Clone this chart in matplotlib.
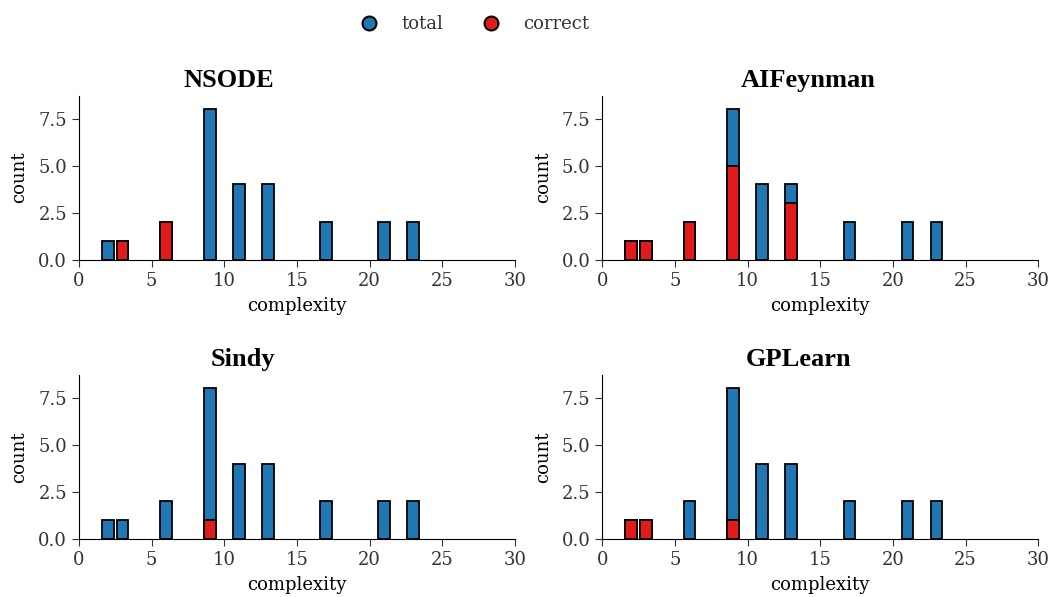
import matplotlib

matplotlib.use("Agg")
import matplotlib.pyplot as plt
from matplotlib.lines import Line2D

# complexity bins and total counts (shared across methods)
complexity = [2, 3, 6, 9, 11, 13, 17, 21, 23]
total = [1, 1, 2, 8, 4, 4, 2, 2, 2]

methods = ["NSODE", "AIFeynman", "Sindy", "GPLearn"]
correct = {
    "NSODE":     [0, 1, 2, 0, 0, 0, 0, 0, 0],
    "AIFeynman": [1, 1, 2, 5, 0, 3, 0, 0, 0],
    "Sindy":     [0, 0, 0, 1, 0, 0, 0, 0, 0],
    "GPLearn":   [1, 1, 0, 1, 0, 0, 0, 0, 0],
}

BLUE = "#1f77b4"
RED = "#e31a1c"
# horizontal title anchor (axes fraction) as placed in the original
title_x = {"NSODE": 0.343, "AIFeynman": 0.472, "Sindy": 0.376, "GPLearn": 0.45}

plt.rcParams["font.family"] = "DejaVu Serif"

fig, axes = plt.subplots(2, 2, figsize=(10.52, 5.97), dpi=100)
fig.subplots_adjust(left=0.075, right=0.987, top=0.84, bottom=0.097,
                    wspace=0.2, hspace=0.7)

for ax, name in zip(axes.flat, methods):
    ax.bar(complexity, total, width=0.8, color=BLUE, edgecolor="black",
           linewidth=1.3, zorder=2)
    ax.bar(complexity, correct[name], width=0.8, color=RED,
           edgecolor="black", linewidth=1.3, zorder=3)
    ax.set_xlim(0, 30)
    ax.set_ylim(0, 8.72)
    ax.set_xticks(range(0, 31, 5))
    ax.set_yticks([0, 2.5, 5.0, 7.5])
    ax.set_yticklabels(["0.0", "2.5", "5.0", "7.5"])
    ax.spines["top"].set_visible(False)
    ax.spines["right"].set_visible(False)
    ax.tick_params(labelsize=13, direction="out", length=5, color="#333333",
                   labelcolor="#333333")
    ax.set_xlabel("complexity", fontsize=13, labelpad=5)
    ax.set_ylabel("count", fontsize=13, labelpad=7)
    ax.set_title(name, fontsize=19, fontweight="bold",
                 family="Liberation Serif", x=title_x[name], pad=6)

handles = [
    Line2D([], [], marker="o", linestyle="", markersize=10,
           markerfacecolor=BLUE, markeredgecolor="black", markeredgewidth=1.5,
           label="total"),
    Line2D([], [], marker="o", linestyle="", markersize=10,
           markerfacecolor=RED, markeredgecolor="black", markeredgewidth=1.5,
           label="correct"),
]
leg = fig.legend(handles=handles, loc="upper center", ncol=2, frameon=False,
                 fontsize=13, bbox_to_anchor=(0.447, 1.002), columnspacing=1.6,
                 handletextpad=0.8)
for t in leg.get_texts():
    t.set_color("#333333")

fig.savefig("out.png", dpi=100)
